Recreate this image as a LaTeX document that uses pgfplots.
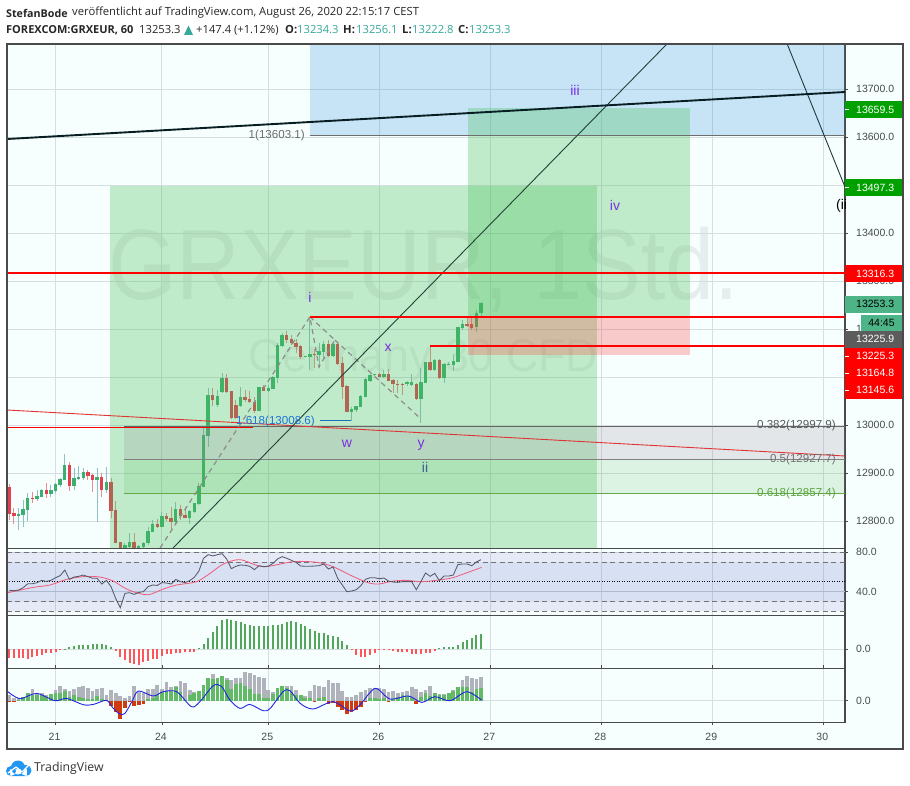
\documentclass[border=0pt]{standalone}
\usepackage{pgfplots}
\usepackage{pgfplotstable}
\usepackage{fontspec}
\pgfplotsset{compat=1.18}
\setmainfont{Liberation Sans}
\newfontfamily\hdr{Open Sans}
\definecolor{bgc}{HTML}{F6FFFE}
\definecolor{frm}{HTML}{4A4A4A}
\definecolor{gridc}{HTML}{D5DEE0}
\definecolor{upc}{HTML}{3CAF6E}
\definecolor{dnc}{HTML}{E04050}
\definecolor{upw}{HTML}{8FC0C4}
\definecolor{dnw}{HTML}{EE8A90}
\definecolor{gbox}{RGB}{70,190,85}
\definecolor{bbox}{RGB}{40,140,220}
\definecolor{rbox}{RGB}{255,50,50}
\definecolor{teal1}{HTML}{35A899}
\definecolor{tagg}{HTML}{00A000}
\definecolor{tagt}{HTML}{4DB487}
\definecolor{lblc}{HTML}{4A4A4A}
\definecolor{pur}{HTML}{7A2FE0}
\definecolor{logoc}{RGB}{33,150,243}

% k hi top bot lo  (rising hours: bot=open, top=close)
\pgfplotstableread{
k hi top bot lo
2 12826.4 12813.9 12810.4 12781.3
3 12843.8 12825.0 12812.5 12788.2
4 12857.7 12847.2 12822.9 12800.7
6 12864.6 12851.4 12846.6 12842.4
7 12866.0 12864.6 12849.3 12849.3
9 12875.0 12864.6 12855.6 12850.7
10 12878.5 12877.1 12862.5 12857.7
11 12888.9 12887.5 12875.0 12871.6
12 12938.9 12916.7 12885.4 12885.4
14 12909.7 12889.6 12872.9 12864.6
15 12914.6 12891.7 12887.5 12885.4
16 12909.7 12902.1 12889.6 12885.4
19 12909.7 12891.7 12885.4 12798.6
21 12913.2 12882.0 12864.6 12857.7
25 12755.0 12750.0 12730.0 12725.0
26 12774.3 12756.3 12746.6 12740.0
28 12749.3 12748.0 12736.0 12732.0
29 12757.0 12753.5 12745.2 12743.0
30 12788.2 12779.2 12753.5 12750.0
31 12802.0 12793.8 12777.8 12777.0
33 12819.5 12810.4 12788.2 12786.8
36 12840.3 12825.0 12798.0 12796.6
39 12822.9 12820.9 12806.3 12793.8
40 12837.5 12837.5 12818.8 12816.0
41 12878.5 12872.9 12835.4 12833.4
42 12993.0 12979.2 12871.6 12870.2
43 13076.4 13062.5 12977.1 12955.0
45 13072.9 13061.1 13041.7 13038.2
46 13107.6 13098.6 13069.4 13067.4
50 13078.5 13058.3 13039.6 13038.2
54 13078.5 13078.5 13029.9 13028.5
56 13083.3 13077.1 13071.5 13069.4
57 13102.1 13099.3 13075.7 13074.3
58 13170.1 13166.7 13097.9 13086.8
59 13192.3 13188.2 13165.3 13163.2
64 13143.7 13143.7 13141.7 13141.0
65 13222.2 13147.2 13142.4 13114.6
67 13170.1 13154.9 13145.8 13118.0
68 13175.7 13168.7 13151.4 13138.9
70 13175.7 13168.7 13143.7 13142.4
74 13038.2 13033.3 13027.1 13008.3
75 13039.6 13039.6 13031.2 13027.8
76 13062.5 13060.4 13038.2 13036.8
77 13097.2 13095.1 13059.0 13057.6
78 13106.2 13104.2 13091.7 13090.3
79 13106.2 13106.2 13103.5 13102.1
81 13114.6 13106.2 13100.0 13098.6
86 13090.9 13089.6 13085.4 13081.2
87 13106.2 13089.6 13084.0 13081.2
89 13118.0 13088.9 13054.2 13004.9
90 13131.2 13131.2 13088.2 13086.8
92 13136.8 13135.4 13114.6 13113.2
94 13128.5 13127.1 13097.9 13088.2
95 13132.0 13127.8 13125.0 13125.0
96 13145.8 13133.3 13125.0 13112.5
97 13204.8 13203.5 13131.9 13130.5
98 13218.7 13210.4 13201.4 13197.9
101 13239.6 13232.6 13203.5 13193.0
102 13256.1 13253.3 13234.3 13222.8
}\upT
\pgfplotstableread{
k hi top bot lo
0 12877.0 12870.2 12814.6 12802.1
1 12826.4 12817.4 12810.4 12793.8
5 12861.1 12848.6 12845.9 12836.8
8 12878.5 12864.6 12856.3 12847.2
13 12922.2 12916.7 12872.9 12863.2
17 12906.3 12902.1 12894.5 12885.4
18 12897.9 12895.9 12885.4 12861.1
20 12900.7 12891.7 12865.3 12850.7
22 12888.9 12881.3 12821.6 12805.6
23 12841.7 12822.9 12754.9 12753.5
24 12757.0 12755.6 12730.0 12725.0
27 12775.7 12756.3 12730.0 12725.0
32 12803.5 12793.8 12787.5 12784.8
34 12816.0 12810.4 12804.2 12800.7
35 12829.9 12806.3 12798.0 12782.7
37 12833.4 12825.0 12810.4 12802.1
38 12829.9 12812.5 12807.0 12805.6
44 13076.4 13062.5 13052.1 13039.6
47 13106.2 13098.6 13068.0 13067.4
48 13071.5 13071.5 13013.9 13011.8
49 13052.1 13041.7 13013.9 13011.8
51 13072.9 13058.3 13052.1 13048.6
52 13071.5 13054.9 13048.6 13045.1
53 13059.0 13048.6 13029.9 13025.7
55 13083.3 13078.5 13071.5 13071.5
60 13196.5 13188.2 13177.8 13170.1
61 13187.5 13179.2 13170.1 13166.7
62 13178.5 13170.1 13162.5 13149.3
63 13166.7 13164.6 13141.0 13136.8
66 13157.6 13147.9 13145.8 13118.0
69 13177.1 13168.7 13144.4 13142.4
71 13173.6 13168.7 13127.8 13125.0
72 13142.4 13129.8 13079.9 13053.5
73 13083.3 13081.2 13027.8 13027.8
80 13107.6 13106.2 13100.0 13099.3
82 13116.0 13106.2 13091.7 13091.7
83 13095.1 13093.7 13084.7 13067.4
84 13093.7 13086.1 13084.0 13066.0
85 13086.8 13086.1 13083.3 13062.5
88 13086.8 13085.4 13054.2 13052.1
91 13166.7 13131.2 13114.6 13113.2
93 13136.8 13135.4 13097.9 13096.5
99 13222.2 13210.4 13206.2 13204.8
100 13224.3 13210.4 13201.4 13197.9
}\dnT
\pgfplotstableread{
k v
0 41.4
1 41.0
2 41.7
3 44.1
4 48.1
5 48.1
6 49.2
7 51.5
8 50.5
9 51.5
10 54.2
11 56.3
12 62.0
13 52.5
14 54.9
15 55.6
16 56.9
17 55.3
18 53.6
19 53.6
20 47.8
21 51.5
22 45.1
23 33.2
24 23.7
25 38.3
26 39.0
27 37.3
28 39.3
29 40.0
30 45.1
31 46.8
32 46.4
33 49.2
34 48.8
35 47.8
36 52.5
37 50.2
38 49.2
39 51.2
40 54.6
41 61.0
42 73.9
43 77.6
44 76.3
45 77.6
46 78.6
47 73.2
48 63.4
49 65.8
50 67.1
51 66.8
52 65.8
53 62.4
54 66.4
55 65.4
56 65.8
57 68.8
58 73.2
59 75.6
60 73.9
61 71.9
62 69.8
63 66.1
64 65.8
65 65.8
66 66.1
67 66.4
68 68.1
69 63.0
70 65.1
71 53.6
72 46.8
73 40.0
74 40.7
75 42.0
76 46.1
77 52.5
78 54.2
79 54.2
80 53.2
81 53.9
82 50.8
83 49.8
84 49.5
85 50.2
86 50.2
87 50.2
88 42.0
89 50.2
90 59.0
91 55.6
92 58.6
93 51.2
94 55.9
95 55.9
96 56.9
97 67.5
98 68.1
99 68.1
100 66.4
101 70.2
102 72.5
}\rsiT
\pgfplotstableread{
k v
-0.3 39.0
5.2 44.4
8.8 46.8
12.4 52.5
16 55.3
19.6 54.9
22.5 50.8
24.7 44.4
26.8 40.0
30 36.9
33.3 42.7
36.2 46.8
40.5 50.2
43.4 58.6
46.3 68.1
49.9 72.5
54.9 65.4
61.4 70.5
66.5 69.8
70 65.4
73.7 56.9
77.3 49.5
79.8 47.8
83 50.8
85.9 51.5
89.5 50.2
95.3 53.6
98.2 58.0
102.1 64.7
}\rsimaT
\pgfplotstableread{
k v
0 -8.3
1 -8.3
2 -8.3
3 -8.3
4 -10
5 -7.3
6 -6.3
7 -5.7
8 -4
9 -3.3
10 -2.3
11 -0.7
12 0.7
13 2
14 3
15 4.3
16 4.3
17 4.3
18 5.3
19 5.3
20 5.3
21 4.3
22 2.3
23 -1.3
24 -7.3
25 -10.7
26 -13.3
27 -15
28 -15.7
29 -13
30 -11.7
31 -10
32 -10
33 -6.7
34 -5
35 -4.3
36 -3.3
37 -3.3
38 -3
39 -2.3
40 -2.3
41 1.3
42 5.3
43 11.7
44 17
45 23.7
46 29.3
47 30.3
48 29.3
49 28
50 27
51 25
52 24
53 23.3
54 23.3
55 23.3
56 23.3
57 24.3
58 24.3
59 25.7
60 27.7
61 28.3
62 27.7
63 25.3
64 23
65 20.3
66 18.7
67 16.3
68 16.3
69 14.3
70 13.3
71 12.7
72 8.3
73 4.3
74 -0.7
75 -5.7
76 -7.3
77 -7.3
78 -5.3
79 -3.3
80 -1
81 -1
82 -0.7
83 -1.3
84 -2.3
85 -2.7
86 -3
87 -4.3
88 -4.7
89 -4.7
90 -4
91 -3.7
92 -1.7
93 1.3
94 2
95 2.3
96 2.3
97 4.3
98 7.3
99 9.3
100 11.7
101 14.3
102 15.3
}\oscT
\pgfplotstableread{
k g h
0 5.7 -1.3
1 2.3 -1.3
2 2.3 1
3 3 3.3
4 7.3 7.3
5 11.7 6
6 7.3 5.7
7 7.3 5.7
8 5.7 3.3
9 6.7 6.7
10 10.7 7.3
11 14.7 8
12 11.3 10
13 10 4
14 11.3 5.7
15 13.7 3.3
16 14.3 2.3
17 12.3 1.3
18 10 1.3
19 11.3 4.7
20 12.3 1.7
21 5.7 0.7
22 10.7 -5.3
23 7.7 -11
24 4.7 -18.3
25 2.3 -7.7
26 5 -1.7
27 14.7 -5.3
28 9 -4.3
29 8 -3.3
30 11.3 1.3
31 11.3 2.3
32 15.7 5.7
33 11.7 9
34 18.3 10
35 13.3 10
36 14.7 14
37 19.7 9
38 17.3 0.7
39 10.7 5.7
40 9 7.7
41 10 9.7
42 15.7 15.7
43 22.3 22.3
44 26.3 21.7
45 23 22.3
46 24.7 24.7
47 22.3 20.7
48 21 11.7
49 22.3 16.3
50 22.7 17.3
51 28.7 14.7
52 28 11.3
53 25.7 6.7
54 24 6.7
55 22.3 3
56 10.7 3
57 9 6.7
58 12.3 12.3
59 14.7 14.7
60 14.7 12.3
61 14.7 9
62 10.7 5.7
63 5.7 5.7
64 5 2.3
65 9.7 2.3
66 15.7 -1
67 14.7 2.3
68 14 3.3
69 20.7 -3.7
70 17.3 -2.7
71 17.3 -6
72 10 -9
73 3.3 -13.3
74 3.3 -11
75 5.7 -9.3
76 8.3 -6.7
77 10.7 -1
78 13 3
79 13 3
80 13 1.7
81 11.7 2.3
82 9 -1.7
83 9.7 1.7
84 7.3 3.3
85 9 5.7
86 9.7 4.7
87 13.3 3
88 11.3 -3.3
89 9 3.3
90 10.7 7.3
91 14.7 4.7
92 5 7.3
93 6.7 5.7
94 6.7 5.7
95 7.3 7.3
96 10.7 10
97 14 14
98 20.7 13.3
99 24.7 13.3
100 22.3 9
101 21.3 11.7
102 23.7 12.7
}\histT
\pgfplotstableread{
k v
-0.3 9
2.3 2
5.9 7.3
9.9 0
12.4 2.3
16 -4
18.2 -3.7
21 0.3
22.5 -7.7
23.9 -13.3
25 -12.7
26.5 -1
27.9 9.7
31.1 4.7
33.3 9
36.2 9
39.4 -6
41.2 -1
44.1 15
45.9 14.3
47.7 0.7
49.9 -7.7
52 -3.7
54.9 -10
56.4 -7.7
59.2 9
60.7 10
62.9 -2.7
65.7 -8.3
70 -1
73.7 -10.3
75.8 -4.3
79.1 12.3
82.3 1.7
86.3 4.7
89.2 -1.7
92 4
95.3 0
98.9 9
102.1 0.7
}\blueT

\pgfplotsset{
  panel/.style={
    scale only axis, width=838pt, anchor=south west,
    xmin=-0.497, xmax=180.7,
    xtick={10,33,56,80,104,128,152,176},
    xticklabels={},
    grid=major,
    major grid style={color=gridc, line width=0.9pt},
    axis line style={color=frm, line width=1.2pt},
    ytick pos=right, yticklabel pos=right,
    scaled y ticks=false,
    major tick length=3pt,
    tick style={color=frm, line width=0.8pt},
    x tick style={draw=none},
    tick align=outside,
    yticklabel style={font=\fontsize{10.5}{12}\selectfont, color=lblc, anchor=west, inner xsep=0pt, xshift=8pt,
      /pgf/number format/.cd, fixed, fixed zerofill, precision=1, 1000 sep={}, assume math mode=true},
  },
  wick/.style={no markers, draw=none, forget plot,
    error bars/.cd, y dir=plus, y explicit, error mark=none,
    error bar style={solid, draw=#1, line width=0.9pt}},
  body/.style={no markers, draw=none, forget plot,
    error bars/.cd, y dir=plus, y explicit, error mark=none,
    error bar style={solid, draw=#1, line width=3.4pt}},
}

\begin{document}
\begin{tikzpicture}[line cap=butt]
\path[use as bounding box] (0pt,0pt) rectangle (910pt,-786pt);
\fill[bgc] (7pt,-44pt) rectangle (903pt,-749pt);
% watermark
\begin{scope}[x=1pt,y=-1pt]
\clip (7,44.5) rectangle (845,548);
\node[anchor=west, inner sep=0pt, text=gray, opacity=0.13, font=\fontsize{100}{100}\selectfont] at (108,270) {\scalebox{0.88}[1]{GRXEUR, 1Std.}};
\node[anchor=west, inner sep=0pt, text=gray, opacity=0.12, font=\fontsize{46}{46}\selectfont] at (248,360) {\scalebox{0.97}[1]{Germany 30 CFD}};
\end{scope}

% ---------- price pane
\begin{axis}[panel, at={(7pt,-548.5pt)}, height=504pt,
  ymin=12742.7, ymax=13792.7,
  ytick={12800,12900,13000,13100,13200,13300,13400,13500,13600,13700}]
\addplot[wick=upw] table[x=k, y=lo, y error plus expr=\thisrow{hi}-\thisrow{lo}] {\upT};
\addplot[wick=dnw] table[x=k, y=lo, y error plus expr=\thisrow{hi}-\thisrow{lo}] {\dnT};
\addplot[body=upc] table[x=k, y=bot, y error plus expr=\thisrow{top}-\thisrow{bot}] {\upT};
\addplot[body=dnc] table[x=k, y=bot, y error plus expr=\thisrow{top}-\thisrow{bot}] {\dnT};
% zones
\addplot[draw=none, fill=bbox, fill opacity=0.23] coordinates {(65,13603.1)(180.7,13603.1)(180.7,13800)(65,13800)} -- cycle;
\addplot[draw=none, fill=gbox, fill opacity=0.30] coordinates {(21.77,12700)(127.07,12700)(127.07,13497.3)(21.77,13497.3)} -- cycle;
\addplot[draw=none, fill=gbox, fill opacity=0.30] coordinates {(99.2,13225.3)(147.2,13225.3)(147.2,13659.5)(99.2,13659.5)} -- cycle;
\addplot[draw=none, fill=rbox, fill opacity=0.25] coordinates {(99.2,13145.6)(147.2,13145.6)(147.2,13225.3)(99.2,13225.3)} -- cycle;
\addplot[draw=none, fill={rgb,255:red,150;green,130;blue,150}, fill opacity=0.2] coordinates {(24.8,12927.7)(180.7,12927.7)(180.7,12997.9)(24.8,12997.9)} -- cycle;
\addplot[draw=none, fill={rgb,255:red,76;green,175;blue,80}, fill opacity=0.15] coordinates {(24.8,12857.4)(180.7,12857.4)(180.7,12927.7)(24.8,12927.7)} -- cycle;
% fib lines
\addplot[color=frm!80, line width=0.9pt] coordinates {(65,13603.1)(180.7,13603.1)};
\addplot[color=frm!85, line width=1pt] coordinates {(24.8,12997.9)(180.7,12997.9)};
\addplot[color=gray, line width=0.8pt] coordinates {(24.8,12927.7)(180.7,12927.7)};
\addplot[color={rgb,255:red,100;green,170;blue,70}, line width=0.9pt] coordinates {(24.8,12857.4)(180.7,12857.4)};
\addplot[color={rgb,255:red,30;green,110;blue,190}, line width=0.9pt] coordinates {(67.2,13008.6)(73.9,13008.6)};
% trend lines
\addplot[color=red!85!black!80, line width=0.9pt] coordinates {(-0.5,13031.25)(180.7,12935.4)};
\addplot[color=red, line width=1pt] coordinates {(-0.5,12995.8)(52.7,12995.8)};
\addplot[color=gray!90, dash pattern=on 5pt off 4pt, line width=1.2pt] coordinates {(32.6,12743.75)(65,13225.3)(66.96,13120.8)(70.4,13177)(65,13225.3)};
\addplot[color=gray!90, dash pattern=on 5pt off 4pt, line width=1.2pt] coordinates {(70.4,13177)(88.8,13014.6)};
\addplot[color={rgb,255:red,35;green,65;blue,55}, line width=0.9pt] coordinates {(35.4,12743.75)(142.2,13793.75)};
\addplot[color={rgb,255:red,35;green,55;blue,60}, line width=0.9pt] coordinates {(168.2,13793.75)(180.7,13495.8)};
\addplot[color={rgb,255:red,8;green,30;blue,35}, line width=1.9pt] coordinates {(-0.5,13595.8)(180.7,13693.75)};
% red levels
\addplot[color=red, line width=1.7pt] coordinates {(-0.5,13316.3)(180.7,13316.3)};
\addplot[color=red, line width=1.7pt] coordinates {(65,13225.3)(180.7,13225.3)};
\addplot[color=red, line width=1.7pt] coordinates {(90.96,13164.8)(180.7,13164.8)};
\end{axis}

% ---------- RSI pane
\begin{axis}[panel, at={(7pt,-615.3pt)}, height=66.8pt,
  ymin=16.04, ymax=83.86, ytick={40,80}]
\addplot[draw=none, fill={rgb,255:red,126;green,87;blue,194}, fill opacity=0.13] coordinates {(-0.5,20)(180.7,20)(180.7,80)(-0.5,80)} -- cycle;
\addplot[draw=none, fill={rgb,255:red,33;green,120;blue,220}, fill opacity=0.07] coordinates {(-0.5,30)(180.7,30)(180.7,70)(-0.5,70)} -- cycle;
\addplot[color=gray!90!black, dash pattern=on 5pt off 3.5pt, line width=0.8pt] coordinates {(-0.5,80)(180.7,80)};
\addplot[color=gray!90!black, dash pattern=on 5pt off 3.5pt, line width=0.8pt] coordinates {(-0.5,70)(180.7,70)};
\addplot[color=gray!90!black, dash pattern=on 5pt off 3.5pt, line width=0.8pt] coordinates {(-0.5,30)(180.7,30)};
\addplot[color=gray!90!black, dash pattern=on 5pt off 3.5pt, line width=0.8pt] coordinates {(-0.5,20)(180.7,20)};
\addplot[color=black, dash pattern=on 0.9pt off 1.6pt, line width=0.9pt] coordinates {(-0.5,50)(180.7,50)};
\addplot[color={rgb,255:red,175;green,185;blue,210}, line width=0.8pt] coordinates {(-0.5,40)(180.7,40)};
\addplot[color={rgb,255:red,240;green,95;blue,125}, line width=0.85pt, smooth] table[x=k,y=v] {\rsimaT};
\addplot[color={rgb,255:red,85;green,90;blue,105}, line width=0.85pt] table[x=k,y=v] {\rsiT};
\end{axis}

% ---------- oscillator pane
\begin{axis}[panel, at={(7pt,-668.3pt)}, height=53pt,
  ymin=-19, ymax=34, ytick={0}]
\addplot[ycomb, mark=none, color={rgb,255:red,83;green,166;blue,90}, line width=2pt, restrict y to domain=0:100] table[x=k,y=v] {\oscT};
\addplot[ycomb, mark=none, color={rgb,255:red,255;green,85;blue,90}, line width=2pt, restrict y to domain=-100:0] table[x=k,y=v] {\oscT};
\end{axis}

% ---------- histogram pane
\begin{axis}[panel, at={(7pt,-722.3pt)}, height=54pt,
  ymin=-21.6, ymax=32.4, ytick={0},
  xticklabels={21,24,25,26,27,28,29,30},
  x tick style={draw, color=frm},
  xticklabel style={font=\fontsize{10.5}{12}\selectfont, color=lblc, yshift=-4pt, xshift=-1pt},
  ]
\addplot[ycomb, mark=none, color={rgb,255:red,176;green,178;blue,188}, line width=3.7pt] table[x=k,y=g] {\histT};
\addplot[ycomb, mark=none, color={rgb,255:red,98;green,185;blue,102}, line width=3.7pt, restrict y to domain=0:100] table[x=k,y=h] {\histT};
\addplot[ycomb, mark=none, color={rgb,255:red,208;green,58;blue,16}, line width=3.7pt, restrict y to domain=-100:0] table[x=k,y=h] {\histT};
\addplot[color={rgb,255:red,35;green,35;blue,225}, line width=0.9pt, smooth] table[x=k,y=v] {\blueT};
\end{axis}

% ---------- annotations
\begin{scope}[x=1pt,y=-1pt]
\draw[frm, line width=1.2pt] (7,44) rectangle (903,749);
% price tags
\newcommand\ptag[5]{\fill[#1] (#2,#3) rectangle (902,#4);
  \node[anchor=west, inner sep=0pt, text=#5, font=\fontsize{10.5}{12}\selectfont] at (856,{(#3+#4)/2}) {\tagtext};}
\def\tagtext{13659.5}\ptag{tagg}{845}{101}{118}{white}
\def\tagtext{13497.3}\ptag{tagg}{845}{179}{196}{white}
\def\tagtext{13316.3}\ptag{red}{845}{265}{282}{white}
\def\tagtext{13253.3}\ptag{tagt}{845}{296}{312.7}{black}
\fill[tagt] (861,314.7) rectangle (902,331);
\node[inner sep=0pt, text=black, font=\fontsize{10.5}{12}\selectfont] at (881.5,322.5) {44:45};
\def\tagtext{13225.9}\ptag{frm!90}{845}{331}{347.7}{white}
\def\tagtext{13225.3}\ptag{red}{845}{347.7}{364.7}{white}
\def\tagtext{13164.8}\ptag{red}{845}{364.7}{381.7}{white}
\def\tagtext{13145.6}\ptag{red}{845}{381.7}{398.7}{white}
\foreach \yy in {109,187,356,373,390} \draw[white,line width=0.7pt] (845,\yy) -- (849,\yy);
% fib texts
\node[anchor=east, inner sep=0pt, text=gray!85!black, font=\fontsize{11.6}{12}\selectfont] at (305,136) {1(13603.1)};
\node[anchor=east, inner sep=0pt, text=gray!70!black, font=\fontsize{11.6}{12}\selectfont] at (836,425) {0.382(12997.9)};
\node[anchor=east, inner sep=0pt, text=gray!90!black, font=\fontsize{11.6}{12}\selectfont] at (836,459.5) {0.5(12927.7)};
\node[anchor=east, inner sep=0pt, text={rgb,255:red,95;green,165;blue,65}, font=\fontsize{11.6}{12}\selectfont] at (836,493.5) {0.618(12857.4)};
\node[anchor=east, inner sep=0pt, text={rgb,255:red,30;green,115;blue,215}, font=\fontsize{11.6}{12}\selectfont] at (315,421) {1.618(13008.6)};
% wave labels
\node[text=pur, font=\fontsize{14}{14}\selectfont] at (310,297) {i};
\node[text=pur, font=\fontsize{14}{14}\selectfont] at (575,90) {iii};
\node[text=pur, font=\fontsize{14}{14}\selectfont] at (615,205) {iv};
\node[text=pur, font=\fontsize{14}{14}\selectfont] at (388,348) {x};
\node[text=pur, font=\fontsize{14}{14}\selectfont] at (347,444) {w};
\node[text=pur, font=\fontsize{14}{14}\selectfont] at (421,445) {y};
\node[text={rgb,255:red,60;green,95;blue,150}, font=\fontsize{14}{14}\selectfont] at (425,467) {ii};
\begin{scope}
\clip (800,190) rectangle (845,220);
\node[anchor=west, inner sep=0pt, text=black, font=\fontsize{14}{14}\selectfont] at (836,206) {(iii)};
\end{scope}
% header
\node[anchor=west, inner sep=0pt, font=\hdr\bfseries\fontsize{10.7}{13}\selectfont, text=black!85] at (6,13) {StefanBode};
\node[anchor=west, inner sep=0pt, font=\hdr\fontsize{11.25}{13}\selectfont, text=black!85] at (72,13) {veröffentlicht auf TradingView.com, August 26, 2020 22:15:17 CEST};
\node[anchor=west, inner sep=0pt, font=\hdr\bfseries\fontsize{11}{13}\selectfont, text=black!85] at (6,30) {FOREXCOM:GRXEUR, 60};
\node[anchor=west, inner sep=0pt, font=\hdr\fontsize{11.2}{13}\selectfont, text=black!85] at (139,30) {13253.3};
\fill[teal1] (184,35) -- (188.5,25.5) -- (193,35) -- cycle;
\node[anchor=west, inner sep=0pt, font=\hdr\fontsize{11.2}{13}\selectfont, text=black!85] at (196,30) {+147.4 (+1.12\%)};
\node[anchor=west, inner sep=0pt, font=\hdr\bfseries\fontsize{11.2}{13}\selectfont, text=black!85] at (285,30) {O:};
\node[anchor=west, inner sep=0pt, font=\hdr\fontsize{11.2}{13}\selectfont, text=teal1] at (297,30) {13234.3};
\node[anchor=west, inner sep=0pt, font=\hdr\bfseries\fontsize{11.2}{13}\selectfont, text=black!85] at (343,30) {H:};
\node[anchor=west, inner sep=0pt, font=\hdr\fontsize{11.2}{13}\selectfont, text=teal1] at (356,30) {13256.1};
\node[anchor=west, inner sep=0pt, font=\hdr\bfseries\fontsize{11.2}{13}\selectfont, text=black!85] at (402,30) {L:};
\node[anchor=west, inner sep=0pt, font=\hdr\fontsize{11.2}{13}\selectfont, text=teal1] at (412,30) {13222.8};
\node[anchor=west, inner sep=0pt, font=\hdr\bfseries\fontsize{11.2}{13}\selectfont, text=black!85] at (458,30) {C:};
\node[anchor=west, inner sep=0pt, font=\hdr\fontsize{11.2}{13}\selectfont, text=teal1] at (469,30) {13253.3};
% logo
\fill[logoc] (11,771) circle[radius=5] (18,767.5) circle[radius=7] (26,770.5) circle[radius=5.5] (10,769) rectangle (27,776);
\draw[white, line width=1.3pt, line join=round] (8,773) -- (16,767) -- (22,772) -- (29,765);
\node[anchor=west, inner sep=0pt, font=\hdr\fontsize{12.3}{14}\selectfont, text=black!80] at (34,768) {TradingView};
\end{scope}
\end{tikzpicture}
\end{document}
